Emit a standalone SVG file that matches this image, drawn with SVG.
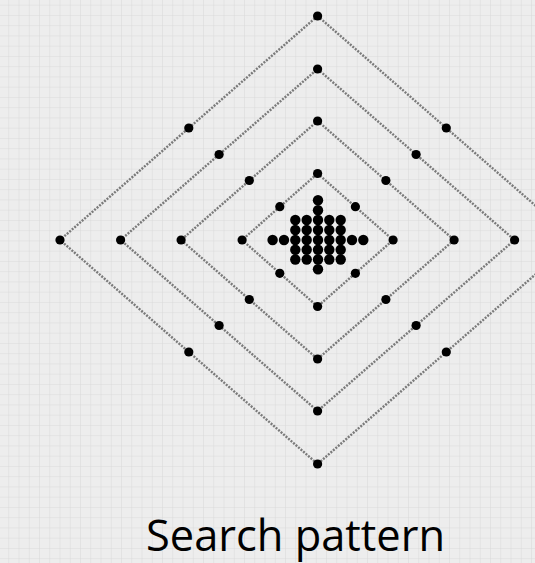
<svg xmlns="http://www.w3.org/2000/svg" width="535" height="563" viewBox="0 0 535 563">
<style>
.edge{fill:none;stroke:#7a7a7a;stroke-width:2.4;stroke-dasharray:2 1.3}
.pt{fill:#000}
.ttl{font-family:"Open Sans","Liberation Sans",sans-serif;font-size:44px;fill:#000}
</style>
<defs>
<pattern id="grid" x="8.3" y="4.7" width="10.25" height="10.25" patternUnits="userSpaceOnUse">
<rect width="10.25" height="10.25" fill="#ededed"/>
<path d="M0 0H10.25M0 0V10.25" stroke="#d9d9d9" stroke-width="1" fill="none"/>
</pattern>
<circle id="dv" r="4.6"/>
<circle id="dc" r="5.2"/>
</defs>
<rect width="535" height="563" fill="url(#grid)"/>
<g id="connectors">
<polygon class="edge" points="317.6,16 575,240 317.6,464 60,240"/>
<polygon class="edge" points="317.6,69 514.6,240 317.6,411 120.6,240"/>
<polygon class="edge" points="317.6,121 454.1,240 317.6,359 181.1,240"/>
<polygon class="edge" points="317.6,173.5 393.1,240 317.6,306.5 242.1,240"/>
</g>
<g id="ring1" class="pt">
<g id="r1-top"><use href="#dv" x="317.6" y="16"/></g>
<g id="r1-left"><use href="#dv" x="60" y="240"/></g>
<g id="r1-bottom"><use href="#dv" x="317.6" y="464"/></g>
<g id="r1-ul"><use href="#dv" x="188.8" y="128"/></g>
<g id="r1-ur"><use href="#dv" x="446.3" y="128"/></g>
<g id="r1-ll"><use href="#dv" x="188.8" y="352"/></g>
<g id="r1-lr"><use href="#dv" x="446.3" y="352"/></g>
</g>
<g id="ring2" class="pt">
<g id="r2-top"><use href="#dv" x="317.6" y="69"/></g>
<g id="r2-right"><use href="#dv" x="514.6" y="240"/></g>
<g id="r2-bottom"><use href="#dv" x="317.6" y="411"/></g>
<g id="r2-left"><use href="#dv" x="120.6" y="240"/></g>
<g id="r2-ul"><use href="#dv" x="219.1" y="154.5"/></g>
<g id="r2-ur"><use href="#dv" x="416.1" y="154.5"/></g>
<g id="r2-ll"><use href="#dv" x="219.1" y="325.5"/></g>
<g id="r2-lr"><use href="#dv" x="416.1" y="325.5"/></g>
</g>
<g id="ring3" class="pt">
<g id="r3-top"><use href="#dv" x="317.6" y="121"/></g>
<g id="r3-right"><use href="#dv" x="454.1" y="240"/></g>
<g id="r3-bottom"><use href="#dv" x="317.6" y="359"/></g>
<g id="r3-left"><use href="#dv" x="181.1" y="240"/></g>
<g id="r3-ul"><use href="#dv" x="249.3" y="180.5"/></g>
<g id="r3-ur"><use href="#dv" x="385.9" y="180.5"/></g>
<g id="r3-ll"><use href="#dv" x="249.3" y="299.5"/></g>
<g id="r3-lr"><use href="#dv" x="385.9" y="299.5"/></g>
</g>
<g id="ring4" class="pt">
<g id="r4-top"><use href="#dv" x="317.6" y="173.5"/></g>
<g id="r4-right"><use href="#dv" x="393.1" y="240"/></g>
<g id="r4-bottom"><use href="#dv" x="317.6" y="306.5"/></g>
<g id="r4-left"><use href="#dv" x="242.1" y="240"/></g>
<g id="r4-ul"><use href="#dv" x="279.8" y="206.7"/></g>
<g id="r4-ur"><use href="#dv" x="355.4" y="206.7"/></g>
<g id="r4-ll"><use href="#dv" x="279.8" y="273.3"/></g>
<g id="r4-lr"><use href="#dv" x="355.4" y="273.3"/></g>
</g>
<g id="cluster" class="pt">
<g id="c-n2"><use href="#dc" x="318" y="200.3"/></g>
<g id="c-n1"><use href="#dc" x="318" y="210.2"/></g>
<g id="c-s1"><use href="#dc" x="318" y="269.3"/></g>
<g id="c-w2"><use href="#dc" x="272.6" y="240"/></g>
<g id="c-w1"><use href="#dc" x="284" y="240"/></g>
<g id="c-e1"><use href="#dc" x="352" y="240"/></g>
<g id="c-e2"><use href="#dc" x="363.3" y="240"/></g>
<g id="c-grid">
<use href="#dc" x="295.3" y="220"/><use href="#dc" x="306.7" y="220"/><use href="#dc" x="318" y="220"/><use href="#dc" x="329.3" y="220"/><use href="#dc" x="340.7" y="220"/>
<use href="#dc" x="295.3" y="230"/><use href="#dc" x="306.7" y="230"/><use href="#dc" x="318" y="230"/><use href="#dc" x="329.3" y="230"/><use href="#dc" x="340.7" y="230"/>
<use href="#dc" x="295.3" y="240"/><use href="#dc" x="306.7" y="240"/><use href="#dc" x="318" y="240"/><use href="#dc" x="329.3" y="240"/><use href="#dc" x="340.7" y="240"/>
<use href="#dc" x="295.3" y="249.7"/><use href="#dc" x="306.7" y="249.7"/><use href="#dc" x="318" y="249.7"/><use href="#dc" x="329.3" y="249.7"/><use href="#dc" x="340.7" y="249.7"/>
<use href="#dc" x="295.3" y="259.5"/><use href="#dc" x="306.7" y="259.5"/><use href="#dc" x="318" y="259.5"/><use href="#dc" x="329.3" y="259.5"/><use href="#dc" x="340.7" y="259.5"/>
</g>
</g>
<g id="title">
<text class="ttl" x="146" y="551" textLength="299" lengthAdjust="spacingAndGlyphs">Search pattern</text>
</g>
</svg>
